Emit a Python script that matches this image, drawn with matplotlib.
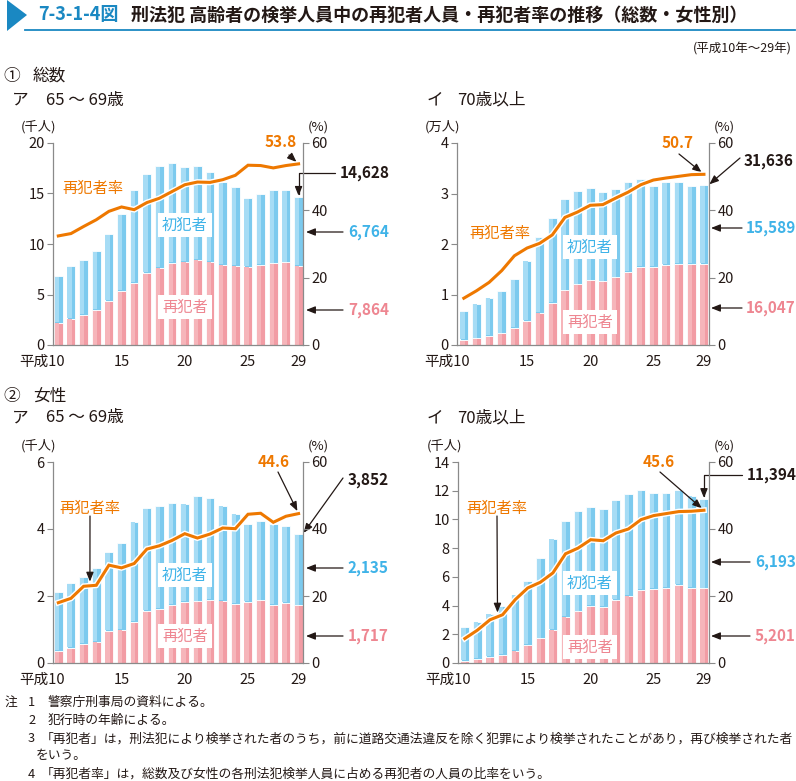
import matplotlib
matplotlib.use("Agg")
import matplotlib.pyplot as plt
import matplotlib.patheffects as pe
from matplotlib.patches import Polygon
from matplotlib.transforms import ScaledTranslation
import numpy as np

plt.rcParams['font.family'] = ['Noto Sans CJK JP', 'DejaVu Sans']

W, H = 796, 781

# ---------------- data ----------------
years = list(range(10, 30))  # 平成10年～29年
xtick_years = [10, 15, 20, 25, 29]
xtick_labels = ['平成10', '15', '20', '25', '29']

# ① 総数 ア 65～69歳 (千人)
p1_total = [6.84, 7.83, 8.40, 9.26, 11.00, 12.96, 15.34, 16.93, 17.69, 18.02,
            17.59, 17.69, 17.12, 16.13, 15.64, 14.55, 14.94, 15.34, 15.34, 14.628]
p1_recid = [2.21, 2.61, 2.94, 3.44, 4.36, 5.32, 6.15, 7.14, 7.67, 8.13,
            8.26, 8.46, 8.26, 7.97, 7.87, 7.77, 7.90, 8.07, 8.17, 7.864]
p1_rate = [32.4, 33.1, 35.2, 37.2, 39.7, 41.0, 40.2, 42.3, 43.6, 45.6,
           47.6, 48.4, 48.3, 49.1, 50.4, 53.4, 53.3, 52.6, 53.3, 53.8]

# ① 総数 イ 70歳以上 (万人)
p2_total = [0.674, 0.82, 0.94, 1.07, 1.31, 1.67, 2.13, 2.51, 2.89, 3.05,
            3.11, 3.03, 3.09, 3.23, 3.29, 3.15, 3.22, 3.23, 3.15, 3.1636]
p2_recid = [0.10, 0.13, 0.18, 0.23, 0.34, 0.48, 0.64, 0.83, 1.08, 1.20,
            1.28, 1.26, 1.34, 1.45, 1.54, 1.54, 1.59, 1.61, 1.60, 1.6047]
p2_rate = [13.9, 16.1, 18.6, 22.1, 26.5, 28.8, 30.2, 32.7, 37.9, 39.5,
           41.5, 41.7, 43.6, 45.4, 47.6, 49.0, 49.6, 50.1, 50.6, 50.7]

# ② 女性 ア 65～69歳 (千人)
p3_total = [2.12, 2.39, 2.56, 2.84, 3.30, 3.59, 4.22, 4.62, 4.68, 4.78,
            4.76, 4.99, 4.92, 4.70, 4.46, 4.15, 4.23, 4.15, 4.08, 3.852]
p3_recid = [0.36, 0.45, 0.56, 0.64, 0.96, 1.00, 1.23, 1.55, 1.62, 1.73,
            1.82, 1.84, 1.88, 1.86, 1.76, 1.82, 1.87, 1.74, 1.79, 1.717]
p3_rate = [18.0, 19.3, 22.9, 23.2, 29.2, 28.4, 29.7, 34.0, 35.0, 36.6,
           38.6, 37.3, 38.5, 40.3, 40.1, 44.4, 44.7, 42.0, 43.8, 44.6]

# ② 女性 イ 70歳以上 (千人)
p4_total = [2.48, 2.88, 3.44, 3.95, 4.76, 5.73, 7.31, 8.66, 9.91, 10.56,
            10.87, 10.73, 11.33, 11.75, 12.03, 11.84, 11.84, 12.07, 11.66, 11.394]
p4_recid = [0.14, 0.28, 0.42, 0.56, 0.86, 1.25, 1.72, 2.32, 3.23, 3.60,
            3.95, 3.90, 4.37, 4.69, 5.08, 5.15, 5.22, 5.43, 5.22, 5.201]
p4_rate = [7.3, 9.8, 12.9, 14.4, 18.9, 22.4, 24.1, 26.9, 32.6, 34.3,
           36.8, 36.5, 38.8, 40.0, 42.8, 44.0, 44.6, 45.2, 45.3, 45.6]

# ---------------- style ----------------
BLUE = '#7ccaee'
BLUE_L = '#a6dcf5'
PINK = '#f29ca4'
PINK_L = '#f6b5ba'
ORANGE = '#ee7800'
BLUE_T = '#3fb3e8'
PINK_T = '#ee8691'
GRAY = '#8a8a8a'
TXT = '#231815'


def fx(x):
    return x / W


def fy(y):
    return 1 - y / H


fig = plt.figure(figsize=(W / 100, H / 100), dpi=100)
fig.patch.set_facecolor('white')

# ---- header ----
fig.patches.append(Polygon([[fx(7), fy(0)], [fx(27), fy(15)], [fx(7), fy(31)]],
                           closed=True, transform=fig.transFigure,
                           facecolor='#1a88c2', edgecolor='none'))
fig.add_artist(plt.Line2D([fx(25), fx(795)], [fy(29.5), fy(29.5)],
                          transform=fig.transFigure, color='#1a88c2', lw=1.3))
fig.text(fx(38), fy(15), '7-3-1-4図', color='#1a88c2', fontsize=13,
         fontweight='bold', va='center', ha='left')
fig.text(fx(131), fy(15), '刑法犯 高齢者の検挙人員中の再犯者人員・再犯者率の推移（総数・女性別）',
         color=TXT, fontsize=13, fontweight='bold', va='center', ha='left')
fig.text(fx(792), fy(49), '(平成10年～29年)', color=TXT, fontsize=9,
         va='center', ha='right')

HS = 12
fig.text(fx(3), fy(76), '①', fontsize=HS, color=TXT, va='center')
fig.text(fx(33), fy(76), '総数', fontsize=HS, color=TXT, va='center')
fig.text(fx(12), fy(100), 'ア', fontsize=HS, color=TXT, va='center')
fig.text(fx(46), fy(100), '65 ～ 69歳', fontsize=HS, color=TXT, va='center')
fig.text(fx(427), fy(100), 'イ', fontsize=HS, color=TXT, va='center')
fig.text(fx(457), fy(100), '70歳以上', fontsize=HS, color=TXT, va='center')
fig.text(fx(3), fy(396), '②', fontsize=HS, color=TXT, va='center')
fig.text(fx(33), fy(396), '女性', fontsize=HS, color=TXT, va='center')
fig.text(fx(12), fy(418), 'ア', fontsize=HS, color=TXT, va='center')
fig.text(fx(46), fy(418), '65 ～ 69歳', fontsize=HS, color=TXT, va='center')
fig.text(fx(427), fy(418), 'イ', fontsize=HS, color=TXT, va='center')
fig.text(fx(457), fy(418), '70歳以上', fontsize=HS, color=TXT, va='center')

# ---- footnotes ----
notes = [
    (5, 702, '注'), (28, 702, '1'), (48, 702, '警察庁刑事局の資料による。'),
    (28, 720, '2'), (48, 720, '犯行時の年齢による。'),
    (28, 739, '3'), (41, 739, '「再犯者」は，刑法犯により検挙された者のうち，前に道路交通法違反を除く犯罪により検挙されたことがあり，再び検挙された者'),
    (36, 756, 'をいう。'),
    (28, 774, '4'), (41, 774, '「再犯者率」は，総数及び女性の各刑法犯検挙人員に占める再犯者の人員の比率をいう。'),
]
for x, y, t in notes:
    fig.text(fx(x), fy(y), t, fontsize=9.2, color=TXT, va='center', ha='left',
             family=['Noto Sans CJK JP', 'DejaVu Sans'])


def panel(rect, xlim, total, recid, rate, ylim, yticks, unit, scale,
          first_xy, recid_xy, rate_xy, annos, rate_arrow=None):
    l, r, t, b = rect
    ax = fig.add_axes([fx(l), fy(b), fx(r - l), (b - t) / H])
    x = np.arange(len(years))
    total = np.array(total)
    recid = np.array(recid)
    first = total - recid
    bw = 0.68
    ax.bar(x, recid, width=bw, color=PINK, edgecolor='white', linewidth=0.6, zorder=2)
    ax.bar(x - bw / 2 + 0.06, recid - 0.004 * ylim[1], width=bw * 0.5, align='edge',
           color=PINK_L, edgecolor='none', linewidth=0, zorder=2.1)
    ax.bar(x, first, bottom=recid, width=bw, color=BLUE, edgecolor='white',
           linewidth=0.6, zorder=2)
    ax.bar(x - bw / 2 + 0.06, first - 0.008 * ylim[1], bottom=recid + 0.004 * ylim[1],
           width=bw * 0.5, align='edge', color=BLUE_L, edgecolor='none',
           linewidth=0, zorder=2.1)
    ax.set_xlim(*xlim)
    ax.set_ylim(*ylim)
    ax.set_yticks(yticks)
    ax.set_yticklabels([str(v) for v in yticks])
    xt = [years.index(v) for v in xtick_years]
    ax.set_xticks(xt)
    ax.set_xticklabels(xtick_labels)
    ax.tick_params(axis='x', length=0, pad=7, labelsize=10.5, labelcolor=TXT)
    first_lbl = ax.get_xticklabels()[0]
    first_lbl.set_ha('right')
    first_lbl.set_transform(first_lbl.get_transform() +
                            ScaledTranslation(0.065, 0, fig.dpi_scale_trans))
    ax.tick_params(axis='y', direction='out', length=4, width=0.8, color=GRAY,
                   labelsize=10.5, labelcolor=TXT, pad=2)
    for s in ['top', 'right']:
        ax.spines[s].set_visible(False)
    for s in ['left', 'bottom']:
        ax.spines[s].set_color(GRAY)
        ax.spines[s].set_linewidth(0.9)
    ax.patch.set_alpha(0)

    ax2 = ax.twinx()
    ax2.set_ylim(0, 60)
    ax2.set_yticks([0, 20, 40, 60])
    ax2.tick_params(axis='y', direction='out', length=4, width=0.8, color=GRAY,
                    labelsize=10.5, labelcolor=TXT, pad=2)
    for s in ['top', 'left', 'bottom']:
        ax2.spines[s].set_visible(False)
    ax2.spines['right'].set_color(GRAY)
    ax2.spines['right'].set_linewidth(0.9)
    ax2.plot(x, rate, color=ORANGE, lw=2.2, zorder=5, solid_joinstyle='miter',
             path_effects=[pe.Stroke(linewidth=4.2, foreground='white'), pe.Normal()])

    # unit labels
    fig.text(fx(l - 14), fy(t - 16), unit, fontsize=9.5, color=TXT, ha='center', va='center')
    fig.text(fx(r + 15), fy(t - 16), '(%)', fontsize=9.5, color=TXT, ha='center', va='center')

    # series labels
    bb = dict(boxstyle='square,pad=0.25', facecolor='white', edgecolor='none')
    fig.text(fx(first_xy[0]), fy(first_xy[1]), '初犯者', fontsize=11, color=BLUE_T,
             ha='center', va='center', bbox=bb, zorder=10)
    fig.text(fx(recid_xy[0]), fy(recid_xy[1]), '再犯者', fontsize=11, color=PINK_T,
             ha='center', va='center', bbox=bb, zorder=10)
    fig.text(fx(rate_xy[0]), fy(rate_xy[1]), '再犯者率', fontsize=11, color=ORANGE,
             ha='center', va='center', zorder=10)

    aprops = dict(arrowstyle='-|>,head_length=0.55,head_width=0.22', color=TXT,
                  lw=0.9, shrinkA=0, shrinkB=0)

    # rate arrow from label to line
    if rate_arrow is not None:
        xa, y0 = rate_arrow
        yv = float(np.interp(xa, x, rate))
        ax2.annotate('', xy=(xa, yv), xycoords='data',
                     xytext=(fx(rate_xy[0]), fy(y0)), textcoords='figure fraction',
                     arrowprops=dict(aprops, shrinkB=3))

    last = len(years) - 1
    # last rate value
    (rx, ry), (rax, ray) = annos['rate']
    fig.text(fx(rx), fy(ry), f'{rate[-1]:.1f}', fontsize=11, color=ORANGE,
             fontweight='bold', ha='right', va='center')
    ax2.annotate('', xy=(last, rate[-1]), xycoords='data',
                 xytext=(fx(rax), fy(ray)), textcoords='figure fraction',
                 arrowprops=dict(aprops, shrinkB=2))

    # total
    (tx, ty), (tax, tay), elbow = annos['total']
    fig.text(fx(tx), fy(ty), f'{total[-1] * scale:,.0f}', fontsize=11, color=TXT,
             fontweight='bold', ha='left', va='center')
    if elbow:
        ax.annotate('', xy=(last, total[-1]), xycoords='data',
                    xytext=(fx(tax), fy(tay)), textcoords='figure fraction',
                    arrowprops=dict(aprops, shrinkB=1,
                                    connectionstyle='angle,angleA=0,angleB=90,rad=0'))
    else:
        ax.annotate('', xy=(last + bw / 2, total[-1]), xycoords='data',
                    xytext=(fx(tax), fy(tay)), textcoords='figure fraction',
                    arrowprops=dict(aprops, shrinkB=1))

    # first-offender and recidivist values
    for key, val, col in [('first', first[-1], BLUE_T), ('recid', recid[-1], PINK_T)]:
        (vx, vy), (a0, a1) = annos[key]
        fig.text(fx(vx), fy(vy), f'{val * scale:,.0f}', fontsize=11, color=col,
                 fontweight='bold', ha='left', va='center')
        ax.annotate('', xy=(fx(a1), fy(vy)), xycoords='figure fraction',
                    xytext=(fx(a0), fy(vy)), textcoords='figure fraction',
                    arrowprops=aprops)
    return ax, ax2


# Panel ① ア
panel((53, 303, 143, 345), (-0.42, 19.35), p1_total, p1_recid, p1_rate,
      (0, 20), [0, 5, 10, 15, 20], '(千人)', 1000,
      (185, 225), (185, 307), (93, 188),
      {'rate': ((297, 142), (289, 155)),
       'total': ((340, 173), (335, 173), True),
       'first': ((348, 232), (343, 306)),
       'recid': ((348, 310), (343, 306))})

# Panel ① イ
panel((457, 709, 143, 345), (-0.54, 19.4), p2_total, p2_recid, p2_rate,
      (0, 4), [0, 1, 2, 3, 4], '(万人)', 10000,
      (590, 247), (590, 322), (500, 233),
      {'rate': ((694, 143), (679, 154)),
       'total': ((744, 161), (740, 158), False),
       'first': ((746, 228), (742, 711)),
       'recid': ((746, 308), (742, 711))})

# Panel ② ア
panel((53, 303, 462, 663), (-0.42, 19.35), p3_total, p3_recid, p3_rate,
      (0, 6), [0, 2, 4, 6], '(千人)', 1000,
      (185, 575), (185, 636), (90, 508),
      {'rate': ((290, 462), (278, 472)),
       'total': ((348, 480), (343, 478), False),
       'first': ((348, 568), (343, 306)),
       'recid': ((348, 636), (343, 306))},
      rate_arrow=(2.5, 516))

# Panel ② イ
panel((458, 709, 462, 663), (-0.54, 19.4), p4_total, p4_recid, p4_rate,
      (0, 14), list(range(0, 15, 2)), '(千人)', 1000,
      (590, 583), (590, 647), (497, 508),
      {'rate': ((675, 462), (660, 472)),
       'total': ((747, 475), (742, 475), True),
       'first': ((755, 562), (750, 711)),
       'recid': ((755, 636), (750, 711))},
      rate_arrow=(2.6, 516))

fig.savefig('out.png', dpi=100, facecolor='white')
